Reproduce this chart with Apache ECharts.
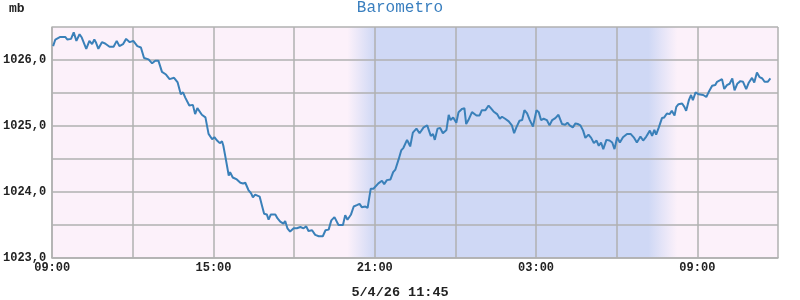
<!DOCTYPE html>
<html>
<head>
<meta charset="utf-8">
<script src="https://cdn.jsdelivr.net/npm/echarts@6/dist/echarts.min.js"></script>
<style>html,body{margin:0;padding:0;background:#fff}#c{width:800px;height:300px}</style>
</head>
<body>
<div id="c"></div>
<script>
// ---- data ----
const times = ["09:02","09:07","09:10","09:18","09:29","09:34","09:42","09:48","09:54","10:01","10:06","10:16","10:23","10:29","10:34","10:38","10:43","10:51","10:58","11:08","11:17","11:24","11:30","11:38","11:45","11:53","12:01","12:10","12:18","12:25","12:35","12:43","12:50","12:57","13:05","13:14","13:22","13:32","13:40","13:47","13:52","13:57","14:06","14:14","14:19","14:24","14:34","14:42","14:49","14:57","15:02","15:08","15:14","15:19","15:22","15:28","15:34","15:37","15:43","15:52","16:00","16:06","16:11","16:18","16:24","16:28","16:33","16:43","16:48","16:53","16:59","17:03","17:08","17:18","17:23","17:29","17:36","17:40","17:45","17:51","17:59","18:06","18:14","18:21","18:27","18:32","18:40","18:47","18:55","19:04","19:10","19:17","19:23","19:30","19:34","19:39","19:49","19:54","19:59","20:07","20:13","20:20","20:26","20:31","20:39","20:44","20:51","20:57","21:01","21:08","21:16","21:21","21:27","21:35","21:41","21:46","21:53","21:59","22:04","22:12","22:15","22:19","22:25","22:33","22:40","22:49","22:57","23:00","23:05","23:10","23:14","23:20","23:26","23:32","23:40","23:45","23:49","23:55","00:02","00:07","00:15","00:20","00:24","00:29","00:37","00:47","00:54","00:59","01:07","01:14","01:19","01:25","01:33","01:39","01:44","01:51","01:59","02:06","02:11","02:16","02:23","02:29","02:34","02:40","02:46","02:53","03:01","03:06","03:11","03:17","03:24","03:30","03:36","03:43","03:50","03:58","04:05","04:10","04:15","04:22","04:28","04:33","04:39","04:45","04:50","04:57","05:03","05:09","05:15","05:20","05:25","05:30","05:37","05:44","05:50","05:55","06:01","06:07","06:14","06:23","06:31","06:39","06:45","06:53","06:59","07:06","07:14","07:19","07:24","07:28","07:34","07:41","07:46","07:52","07:58","08:03","08:09","08:13","08:18","08:26","08:31","08:35","08:41","08:46","08:50","08:56","09:03","09:13","09:20","09:25","09:33","09:40","09:44","09:50","09:55","10:00","10:06","10:12","10:18","10:23","10:29","10:36","10:42","10:49","10:55","11:02","11:07","11:13","11:19","11:25","11:30","11:37","11:43"];
const pressure = [1026.21,1026.31,1026.29,1026.35,1026.35,1026.31,1026.32,1026.42,1026.29,1026.39,1026.34,1026.17,1026.29,1026.24,1026.31,1026.26,1026.17,1026.27,1026.25,1026.20,1026.20,1026.29,1026.21,1026.24,1026.32,1026.27,1026.29,1026.21,1026.19,1026.03,1026.01,1025.95,1025.99,1025.99,1025.82,1025.78,1025.71,1025.73,1025.66,1025.48,1025.51,1025.43,1025.31,1025.32,1025.18,1025.27,1025.17,1025.13,1024.88,1024.80,1024.83,1024.78,1024.74,1024.77,1024.70,1024.48,1024.25,1024.30,1024.22,1024.19,1024.14,1024.13,1024.14,1024.03,1023.98,1023.92,1023.96,1023.93,1023.80,1023.67,1023.66,1023.58,1023.66,1023.66,1023.60,1023.55,1023.52,1023.56,1023.45,1023.40,1023.45,1023.45,1023.47,1023.45,1023.48,1023.41,1023.42,1023.35,1023.33,1023.33,1023.42,1023.43,1023.57,1023.62,1023.65,1023.50,1023.50,1023.65,1023.58,1023.66,1023.78,1023.80,1023.82,1023.77,1023.78,1023.76,1024.05,1024.05,1024.07,1024.13,1024.17,1024.12,1024.18,1024.19,1024.30,1024.34,1024.49,1024.63,1024.67,1024.79,1024.75,1024.69,1024.90,1024.96,1024.89,1024.98,1025.01,1025.01,1024.85,1024.88,1024.79,1024.96,1024.97,1024.89,1024.94,1025.17,1025.09,1025.13,1025.05,1025.21,1025.26,1025.27,1025.03,1025.09,1025.21,1025.16,1025.16,1025.24,1025.24,1025.31,1025.27,1025.22,1025.18,1025.11,1025.14,1025.11,1025.07,1025.01,1024.89,1024.98,1025.08,1025.09,1025.24,1025.19,1025.09,1024.99,1025.24,1025.21,1025.09,1025.11,1025.09,1025.01,1025.09,1025.12,1025.17,1025.03,1025.02,1025.05,1025.01,1024.98,1025.04,1025.03,1025.01,1024.93,1024.82,1024.87,1024.82,1024.74,1024.78,1024.70,1024.75,1024.65,1024.79,1024.78,1024.75,1024.65,1024.83,1024.75,1024.83,1024.88,1024.88,1024.82,1024.75,1024.84,1024.78,1024.84,1024.93,1024.85,1024.94,1024.87,1024.98,1025.12,1025.13,1025.19,1025.18,1025.23,1025.16,1025.29,1025.33,1025.34,1025.29,1025.23,1025.39,1025.47,1025.39,1025.51,1025.48,1025.47,1025.44,1025.51,1025.61,1025.62,1025.67,1025.69,1025.71,1025.56,1025.62,1025.64,1025.72,1025.54,1025.64,1025.68,1025.67,1025.56,1025.66,1025.73,1025.66,1025.81,1025.74,1025.72,1025.67,1025.67,1025.72];
const startTime = "09:00";
const endTime = "12:00";      // next day
const nightStart = "19:59";
const nightFull = "21:00";
const nightFullEnd = "07:11";
const nightEnd = "08:15";
const yMin = 1023, yMax = 1026.5;
const titleText = "Barometro";
const unitText = "mb";
const stampText = "5/4/26 11:45";

// ---- helpers ----
function toMin(s){const p=s.split(":");return (+p[0])*60+(+p[1]);}
const base = toMin(startTime);
function offset(s, after){ let m = toMin(s)-base; if(m<0) m+=1440; if(after!==undefined && m<after) m+=1440; return m; }
let prev = 0;
const seriesData = times.map((t,i)=>{ let m=offset(t); if(m<prev) m+=1440; prev=m; return [m, pressure[i]]; });
const xMax = offset(endTime) + 1440;
const ns = offset(nightStart), nf = offset(nightFull), nfe = offset(nightFullEnd)+ (offset(nightFullEnd)<ns?0:0), ne = offset(nightEnd);
const nfeM = nfe < ns ? nfe + 1440 : nfe, neM = ne < ns ? ne + 1440 : ne;
const span = neM - ns;
const pink = '#fcf1fa', blue = '#cfd8f5';

const font = 'Liberation Mono';
const chart = echarts.init(document.getElementById('c'));
chart.setOption({
  animation:false,
  backgroundColor:'#ffffff',
  title:[
    {text:titleText,left:'center',top:0,padding:0,textStyle:{fontFamily:font,fontSize:16,fontWeight:'normal',color:'#3a7fbf'}},
    {text:unitText,left:9,top:2,padding:0,textStyle:{fontFamily:font,fontSize:13,fontWeight:'bold',color:'#222'}},
    {text:stampText,left:'center',top:286,padding:0,textStyle:{fontFamily:font,fontSize:13.5,fontWeight:'bold',color:'#222'}}
  ],
  grid:{left:52,right:22,top:27,bottom:42,show:true,backgroundColor:pink,borderWidth:0},
  xAxis:{
    type:'value',min:0,max:xMax,interval:180,z:5,
    axisLine:{show:true,lineStyle:{color:'#b0b0b0',width:1.5}},
    axisTick:{show:false},
    splitLine:{show:true,lineStyle:{color:'#b0b0b0',width:1.5}},
    axisLabel:{margin:4,fontFamily:font,fontSize:12,fontWeight:'bold',color:'#222',
      formatter:function(v){ if(v%360!==0) return ''; const h=Math.floor((base+v)/60)%24; const mm=(base+v)%60; return String(h).padStart(2,'0')+':'+String(mm).padStart(2,'0'); }}
  },
  yAxis:{
    type:'value',min:yMin,max:yMax,interval:0.5,z:5,
    axisLine:{show:true,lineStyle:{color:'#b0b0b0',width:1.5}},
    axisTick:{show:false},
    splitLine:{show:true,lineStyle:{color:'#b0b0b0',width:1.5}},
    axisLabel:{margin:6,fontFamily:font,fontSize:12,fontWeight:'bold',color:'#222',
      formatter:function(v){ return Math.abs(v-Math.round(v))<1e-6 ? v.toFixed(1).replace('.',',') : ''; }}
  },
  series:[
    {type:'line',data:[],z:1,silent:true,
     markArea:{silent:true,itemStyle:{color:{type:'linear',x:0,y:0,x2:1,y2:0,colorStops:[
        {offset:0,color:pink},{offset:(nf-ns)/span,color:blue},{offset:(nfeM-ns)/span,color:blue},{offset:1,color:pink}]}},
       data:[[{xAxis:ns},{xAxis:neM}]]}},
    {type:'line',data:seriesData,z:10,symbol:'none',showSymbol:false,
     lineStyle:{color:'#3a80b9',width:2}}
  ]
});
</script>
</body>
</html>
